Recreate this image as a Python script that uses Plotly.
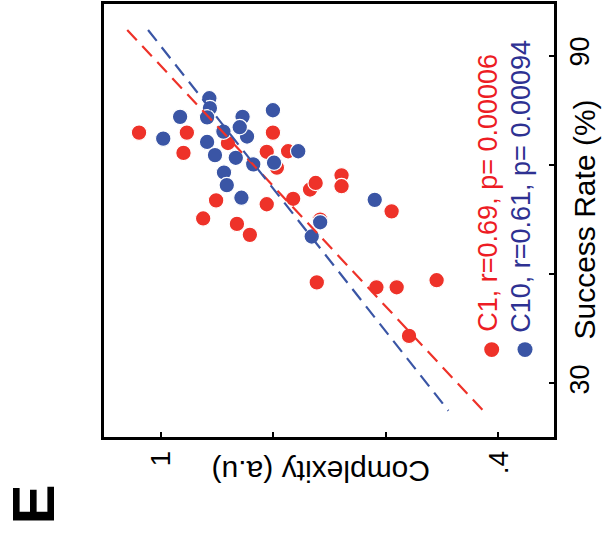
import plotly.graph_objects as go

# Complexity (a.u) and Success Rate (%) per condition (figure shown rotated)
c1_complexity = [1.039, 0.954, 0.960, 0.801, 0.812, 0.774, 0.794, 0.902, 0.925, 0.865,
                 0.842, 0.812, 0.765, 0.735, 0.725, 0.679, 0.679, 0.590, 0.717, 0.723,
                 0.617, 0.581, 0.510, 0.559, 0.881]
c1_success = [75.9, 75.9, 72.2, 75.9, 72.4, 72.5, 69.5, 63.5, 60.2, 59.2,
              57.2, 62.8, 63.8, 65.5, 66.7, 68.1, 66.1, 61.5, 60.0, 48.5,
              47.6, 47.6, 48.9, 38.7, 74.0]

c10_complexity = [0.914, 0.913, 0.966, 0.918, 0.855, 0.801, 0.996, 0.889, 0.847, 0.918,
                  0.904, 0.867, 0.836, 0.756, 0.799, 0.888, 0.883, 0.857, 0.620, 0.717,
                  0.732, 0.860]
c10_success = [82.2, 80.4, 78.8, 78.7, 78.8, 80.0, 74.8, 76.1, 75.2, 74.2,
               71.8, 71.3, 70.1, 72.5, 70.4, 68.6, 66.3, 64.0, 63.6, 59.5,
               56.9, 76.9]

# regression lines (endpoints)
fit_c1_complexity = [1.060, 0.427]
fit_c1_success = [94.7, 25.0]
fit_c10_complexity = [1.023, 0.489]
fit_c10_success = [94.7, 25.0]

complexity_ticks = [1.0, 0.8, 0.6, 0.4]
complexity_ticktext = ["1", "", "", ".4"]
success_ticks = [30, 50, 70, 90]
success_ticktext = ["30", "", "", "90"]

legend_c1 = "C1, r=0.69, p= 0.00006"
legend_c10 = "C10, r=0.61, p= 0.00094"

RED = "#EE3229"
BLUE = "#3A55A5"
RED_TXT = "#ED1C24"
BLUE_TXT = "#2E3192"
FONT = "Liberation Sans, Arial, sans-serif"

fig = go.Figure()
fig.add_trace(go.Scatter(x=c1_complexity, y=c1_success, mode="markers",
                         marker=dict(size=15.5, color=RED, line=dict(color="white", width=1.2)),
                         showlegend=False))
fig.add_trace(go.Scatter(x=c10_complexity, y=c10_success, mode="markers",
                         marker=dict(size=15.5, color=BLUE, line=dict(color="white", width=1.2)),
                         showlegend=False))
fig.add_trace(go.Scatter(x=fit_c1_complexity, y=fit_c1_success, mode="lines",
                         line=dict(color=RED, width=2.2, dash="14px,8px"), showlegend=False))
fig.add_trace(go.Scatter(x=fit_c10_complexity, y=fit_c10_success, mode="lines",
                         line=dict(color=BLUE, width=2.2, dash="14px,8px"), showlegend=False))

L, R, T, B = 104, 59, 1, 108
W, H = 613, 545
pw, ph = W - L - R, H - T - B


def px(x):
    return (x - L) / pw


def py(y):
    return (H - B - y) / ph


annotations = [
    dict(text="Complexity (a.u)", x=px(321), y=py(471), textangle=180,
         font=dict(size=30, color="black", family=FONT)),
    dict(text="Success Rate (%)", x=px(585), y=py(218), textangle=-90,
         font=dict(size=30, color="black", family=FONT)),
    dict(text="<b>E</b>", x=px(33.5), y=py(505.5), textangle=-90,
         font=dict(size=60, color="black", family=FONT)),
    dict(text=legend_c1, x=px(488), y=py(191), textangle=-90,
         font=dict(size=27, color=RED_TXT, family=FONT)),
    dict(text=legend_c10, x=px(521.5), y=py(184.5), textangle=-90,
         font=dict(size=27, color=BLUE_TXT, family=FONT)),
]
for a in annotations:
    a.update(xref="paper", yref="paper", showarrow=False, xanchor="center", yanchor="middle")

shapes = []
for cx, col in [(491.7, RED), (525, BLUE)]:
    r = 7.5
    shapes.append(dict(type="circle", xref="paper", yref="paper",
                       x0=px(cx - r), x1=px(cx + r), y0=py(349 + r), y1=py(349 - r),
                       fillcolor=col, line=dict(width=0)))

fig.update_layout(
    width=W, height=H,
    margin=dict(l=L, r=R, t=T, b=B, pad=0),
    paper_bgcolor="white", plot_bgcolor="white",
    annotations=annotations, shapes=shapes,
    font=dict(family=FONT, color="black"),
    xaxis=dict(range=[1.1013, 0.3013], tickvals=complexity_ticks, ticktext=complexity_ticktext,
               tickangle=-90, ticks="inside", ticklen=5, tickwidth=2, tickcolor="black",
               showline=True, linecolor="black", linewidth=2.5, mirror=True,
               showgrid=False, zeroline=False, tickfont=dict(size=28, family=FONT)),
    yaxis=dict(range=[20.2, 99.45], side="right", tickvals=success_ticks, ticktext=success_ticktext,
               tickangle=-90, ticks="inside", ticklen=5, tickwidth=2, tickcolor="black",
               showline=True, linecolor="black", linewidth=2.5, mirror=True,
               showgrid=False, zeroline=False, tickfont=dict(size=27, family=FONT)),
)

fig.write_html("out.html")
